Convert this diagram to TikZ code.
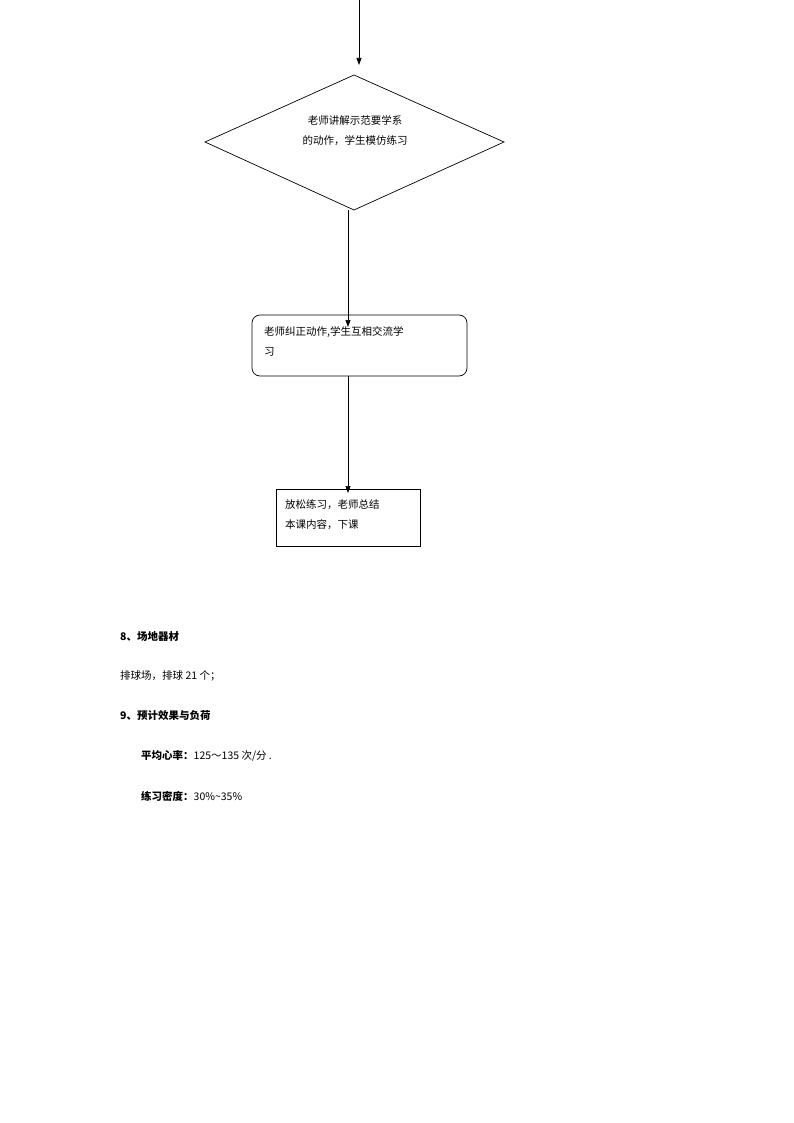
\documentclass[tikz,border=0pt]{standalone}
\usepackage{fontspec}
\newfontfamily\cjk{Noto Sans CJK SC}
\usetikzlibrary{shapes.geometric,arrows.meta}
\begin{document}
\begin{tikzpicture}[x=1pt,y=-1pt,
  txt/.style={font=\cjk\fontsize{10.5pt}{13pt}\selectfont,inner sep=0pt},
  conn/.style={draw,line width=0.7pt,-{Triangle[length=7pt,width=5pt]}},
  box/.style={draw,line width=0.7pt}]
\useasboundingbox (0,0) rectangle (794,1123);
\coordinate (top) at (359,0);
\coordinate (dtop) at (359,65);
\draw[box] (354,75) coordinate (dn) -- (504,142) -- (354,210) coordinate (ds) -- (205,142) -- cycle;
\node[txt,align=center] (dt) at (355,131) {老师讲解示范要学系\\[7pt]的动作，学生模仿练习};
\draw[box,rounded corners=8pt] (252,315) rectangle (467,376);
\node[txt,align=left,anchor=north west] (bt) at (264,326) {老师纠正动作,学生互相交流学\\[7pt]习};
\coordinate (b1t) at (348,315); \coordinate (b1b) at (348,376);
\draw[box] (276,489) rectangle (420,546);
\coordinate (b2t) at (348,489);
\node[txt,align=left,anchor=north west] (ct) at (285,499) {放松练习，老师总结\\[7pt]本课内容，下课};
\draw[conn] (top) -- (dtop);
\draw[conn] (348,210) -- ([yshift=-12pt]b1t);
\draw[conn] (b1b) -- ([yshift=-4pt]b2t);
\node[txt,anchor=west] (h8) at (120,637) {\bfseries 8、场地器材};
\node[txt,anchor=west] (p1) at (120,676) {排球场，排球 21 个；};
\node[txt,anchor=west] (h9) at (120,716) {\bfseries 9、预计效果与负荷};
\node[txt,anchor=west] (p2) at (141,756) {\bfseries 平均心率：\mdseries 125～135 次/分 .};
\node[txt,anchor=west] (p3) at (141,796) {\bfseries 练习密度：\mdseries 30\%\textasciitilde35\%};
\end{tikzpicture}
\end{document}
